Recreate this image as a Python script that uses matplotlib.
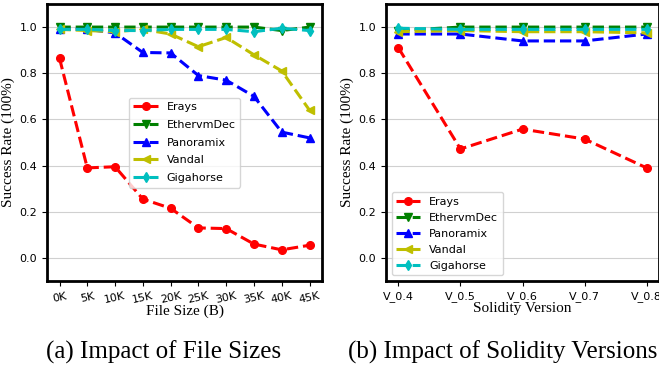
"""Success rate of decompilers vs. file size and Solidity version."""

import matplotlib
matplotlib.use("Agg")
import matplotlib.pyplot as plt

TOOLS = ["Erays", "EthervmDec", "Panoramix", "Vandal", "Gigahorse"]
STYLES = {
    "Erays": ("r", "o"),
    "EthervmDec": ("g", "v"),
    "Panoramix": ("b", "^"),
    "Vandal": ("y", "<"),
    "Gigahorse": ("c", "d"),
}

file_sizes = ["0K", "5K", "10K", "15K", "20K", "25K", "30K", "35K", "40K", "45K"]
size_rates = {
    "Erays": [0.865, 0.39, 0.395, 0.255, 0.215, 0.13, 0.127, 0.06, 0.035, 0.055],
    "EthervmDec": [1.0, 1.0, 1.0, 1.0, 1.0, 1.0, 1.0, 1.0, 0.985, 1.0],
    "Panoramix": [0.99, 0.99, 0.975, 0.89, 0.888, 0.79, 0.77, 0.70, 0.545, 0.52],
    "Vandal": [0.99, 0.985, 0.98, 0.99, 0.97, 0.915, 0.955, 0.88, 0.81, 0.64],
    "Gigahorse": [0.99, 0.99, 0.985, 0.985, 0.99, 0.99, 0.99, 0.98, 0.995, 0.985],
}

versions = ["V_0.4", "V_0.5", "V_0.6", "V_0.7", "V_0.8"]
version_rates = {
    "Erays": [0.91, 0.472, 0.558, 0.515, 0.39],
    "EthervmDec": [0.985, 1.0, 1.0, 1.0, 1.0],
    "Panoramix": [0.97, 0.97, 0.94, 0.94, 0.97],
    "Vandal": [0.98, 0.985, 0.98, 0.98, 0.975],
    "Gigahorse": [0.995, 0.99, 0.99, 0.99, 0.99],
}

SERIF = ["Liberation Serif", "DejaVu Serif"]


def draw_panel(ax, labels, rates, xlabel, legend_loc, rotation, labelspacing):
    x = range(len(labels))
    for tool in TOOLS:
        color, marker = STYLES[tool]
        ax.plot(x, rates[tool], color=color, marker=marker, linestyle="--",
                linewidth=2.2, markersize=5.5, label=tool)
    ax.set_ylim(-0.1, 1.1)
    ax.set_yticks([0.0, 0.2, 0.4, 0.6, 0.8, 1.0])
    ax.set_xticks(list(x), labels, rotation=rotation)
    ax.tick_params(labelsize=8)
    ax.grid(axis="y", color="#d0d0d0", linewidth=0.8)
    ax.set_axisbelow(True)
    for spine in ax.spines.values():
        spine.set_linewidth(2)
        spine.set_color("black")
    ax.set_xlabel(xlabel, family=SERIF, fontsize=11, labelpad=0)
    ax.set_ylabel("Success Rate (100%)", family=SERIF, fontsize=11, labelpad=3)
    ax.legend(loc=legend_loc, fontsize=8, handlelength=2.2,
              labelspacing=labelspacing)


fig = plt.figure(figsize=(6.59, 3.71), dpi=100)
ax_a = fig.add_axes([47 / 659, 90 / 371, 275 / 659, 277 / 371])
ax_b = fig.add_axes([386 / 659, 90 / 371, 273 / 659, 277 / 371])

draw_panel(ax_a, file_sizes, size_rates, "File Size (B)", "center", 12, 0.7)
draw_panel(ax_b, versions, version_rates, "Solidity Version", "lower left", 0, 0.55)

fig.text(164 / 659, 1 - 352 / 371, "(a) Impact of File Sizes", family=SERIF,
         fontsize=18, ha="center", va="center")
fig.text(503 / 659, 1 - 352 / 371, "(b) Impact of Solidity Versions", family=SERIF,
         fontsize=18, ha="center", va="center")

fig.savefig("out.png", dpi=100)
